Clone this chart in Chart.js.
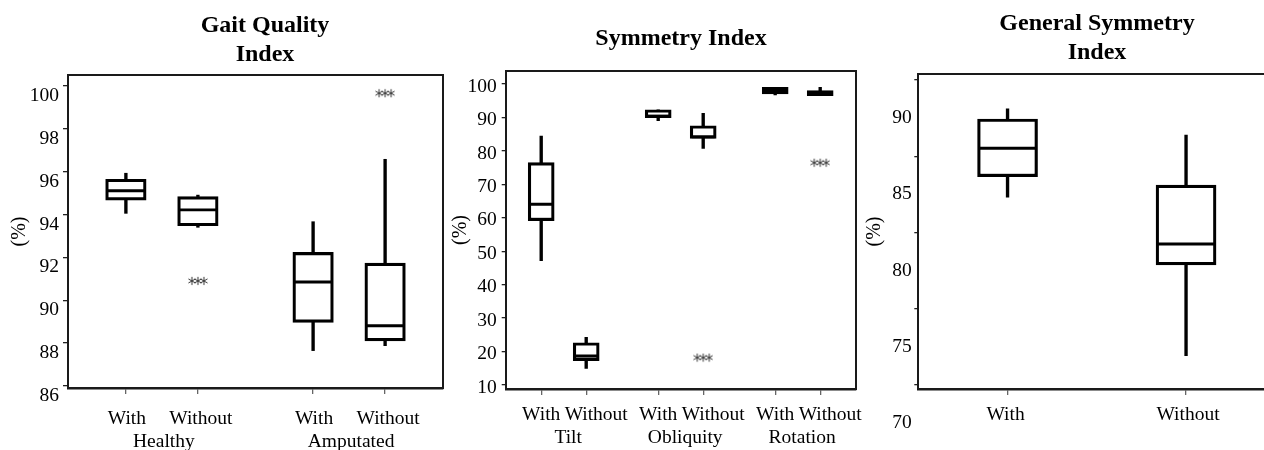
<!DOCTYPE html>
<html>
<head>
<meta charset="utf-8">
<script src="https://cdn.jsdelivr.net/npm/chart.js@4.4.1/dist/chart.umd.min.js"></script>
<style>
html, body { margin: 0; padding: 0; background: #fff; overflow: hidden; width: 1264px; height: 450px; }
#wrap { position: relative; width: 1264px; height: 450px; overflow: hidden; }
canvas { position: absolute; top: 0; }
</style>
</head>
<body>
<div id="wrap">
  <canvas id="c1" width="530" height="450" style="left:0px"></canvas>
  <canvas id="c2" width="502" height="450" style="left:430px"></canvas>
  <canvas id="c3" width="474" height="450" style="left:860px"></canvas>
</div>
<script>
// ---------- Panel 1: Gait Quality Index ----------
const gqiGroups = ['Healthy', 'Amputated'];
const gqiConditions = ['With', 'Without', 'With', 'Without'];
const gqiMin    = [94.05, 93.40, 87.65, 87.88];
const gqiQ1     = [94.67, 93.47, 88.97, 88.10];
const gqiMedian = [95.10, 94.21, 90.85, 88.81];
const gqiQ3     = [95.64, 94.83, 92.23, 91.73];
const gqiMax    = [95.92, 94.90, 93.66, 96.57];
const gqiOutliers = [null, 90.9, null, 99.65];
const gqiTicks  = [86, 88, 90, 92, 94, 96, 98, 100];

// ---------- Panel 2: Symmetry Index ----------
const siGroups = ['Tilt', 'Obliquity', 'Rotation'];
const siConditions = ['With', 'Without', 'With', 'Without', 'With', 'Without'];
const siMin    = [47.16, 14.98, 89.03, 80.77, 96.71, 96.50];
const siQ1     = [59.12, 17.25, 89.92, 83.76, 97.01, 96.50];
const siMedian = [64.03, 18.66, 90.37, 84.20, 97.99, 97.25];
const siQ3     = [76.47, 22.64, 92.31, 87.53, 99.01, 98.00];
const siMax    = [84.45, 24.25, 92.31, 91.24, 99.01, 99.00];
const siOutliers = [null, null, null, 18.2, null, 76.47];
const siTicks  = [10, 20, 30, 40, 50, 60, 70, 80, 90, 100];

// ---------- Panel 3: General Symmetry Index ----------
const gsiGroups = [];
const gsiConditions = ['With', 'Without'];
const gsiMin    = [82.31, 71.92];
const gsiQ1     = [83.66, 77.87];
const gsiMedian = [85.52, 79.25];
const gsiQ3     = [87.44, 83.11];
const gsiMax    = [88.10, 86.39];
const gsiOutliers = [null, null];
const gsiTicks  = [70, 75, 80, 85, 90];

Chart.defaults.font.family = "'Liberation Serif', 'Times New Roman', serif";
Chart.defaults.color = '#000';

function outlierMarker() {
  const c = document.createElement('canvas');
  c.width = 20; c.height = 10;
  const g = c.getContext('2d');
  g.strokeStyle = '#333'; g.lineWidth = 1.0; g.lineCap = 'round';
  [4, 10, 16].forEach(cx => {
    for (let k = 0; k < 3; k++) {
      const a = Math.PI / 2 + k * Math.PI / 3;
      g.beginPath();
      g.moveTo(cx + Math.cos(a) * 3.7, 5 + Math.sin(a) * 3.7);
      g.lineTo(cx - Math.cos(a) * 3.7, 5 - Math.sin(a) * 3.7);
      g.stroke();
    }
  });
  return c;
}
const MARK = outlierMarker();
const FRAME = '#1a1a1a';
const LABEL_FONT = { size: 19.5 };

function panel(id, o) {
  const d = o.data;
  const canvas = document.getElementById(id);
  const slots = d.conditions.map((_, i) => 1 + i + Math.floor(i / 2) * 0.6);
  const groupPos = d.groups.map((_, g) => (slots[2 * g] + slots[2 * g + 1]) / 2);
  const xMin = 1 - o.xMargin, xMax = slots[slots.length - 1] + o.xMargin;
  const plotW = canvas.width - o.yWidth - o.rightW;
  const pxPerUnit = plotW / (xMax - xMin);
  // label anchor positions (tick position nudged by a small pixel offset, as in the figure)
  const condLabelPos = slots.map((s, i) => s + (d.conditions[i] === 'With' ? o.withOffset : o.withoutOffset) / pxPerUnit);

  const labelAxis = (positions, labels, weight, height, pad, offset) => ({
    type: 'linear', axis: 'x', position: 'bottom', weight: weight,
    min: xMin, max: xMax, offset: false,
    grid: { display: false, drawTicks: false },
    border: { display: false },
    ticks: { autoSkip: false, maxRotation: 0, minRotation: 0, padding: pad, labelOffset: offset,
             font: LABEL_FONT, color: '#000', callback: (v, i) => labels[i] },
    afterBuildTicks: s => { s.ticks = positions.map(v => ({ value: v })); },
    afterFit: s => { s.height = height; }
  });

  const scales = {
    x: {
      type: 'linear', position: 'bottom', weight: 0, min: xMin, max: xMax, offset: false,
      grid: { display: true, drawOnChartArea: false, drawTicks: true, tickLength: 6, color: '#666', lineWidth: 1.3, offset: false },
      border: { display: true, color: FRAME, width: 2.4 },
      ticks: { display: false },
      afterBuildTicks: s => { s.ticks = slots.map(v => ({ value: v })); },
      afterFit: s => { s.height = o.xAxisH; }
    },
    xC: labelAxis(condLabelPos, d.conditions, 1, o.labelH, o.labelPad, 0),
    xTop: {
      type: 'linear', axis: 'x', position: 'top', min: xMin, max: xMax,
      grid: { display: false, drawTicks: false }, border: { display: true, color: FRAME, width: 2 },
      ticks: { display: false }, afterFit: s => { s.height = 0; }
    },
    y: {
      type: 'linear', position: 'left', min: o.yMin, max: o.yMax,
      grid: { display: true, drawOnChartArea: false, drawTicks: true, tickLength: o.yTickLen, color: '#222', lineWidth: 1.3 },
      border: { display: true, color: FRAME, width: 2 },
      ticks: { autoSkip: false, padding: o.yPad, labelOffset: o.yLabelOffset, font: LABEL_FONT, color: '#000',
               callback: v => String(v) },
      afterBuildTicks: s => { s.ticks = d.ticks.map(v => ({ value: v })); },
      afterFit: s => { s.width = o.yWidth; },
      title: { display: true, text: '(%)', font: { size: 20 }, color: '#000', padding: { top: o.yTitlePad, bottom: 0 } }
    },
    yRight: {
      type: 'linear', axis: 'y', position: 'right', min: o.yMin, max: o.yMax,
      grid: { display: false, drawTicks: false }, border: { display: true, color: FRAME, width: 2 },
      ticks: { display: false }, afterFit: s => { s.width = o.rightW; }
    }
  };
  if (d.groups.length) {
    scales.xG = labelAxis(groupPos, d.groups, 2, o.groupH, o.groupPad, o.groupOffset);
  }

  const pts = arr => slots.map((x, i) => ({ x: x, y: arr[i] }));
  const datasets = [
    { type: 'bar', label: 'upper whisker', data: slots.map((x, i) => ({ x: x, y: [d.q3[i], d.max[i]] })),
      backgroundColor: '#000', borderWidth: 0, barThickness: 2.7, grouped: false, order: 3 },
    { type: 'bar', label: 'lower whisker', data: slots.map((x, i) => ({ x: x, y: [d.min[i], d.q1[i]] })),
      backgroundColor: '#000', borderWidth: 0, barThickness: 2.7, grouped: false, order: 3 },
    { type: 'bar', label: 'box', data: slots.map((x, i) => ({ x: x, y: [d.q1[i], d.q3[i]] })),
      backgroundColor: '#fff', borderColor: '#000', borderWidth: 3.2, borderSkipped: false,
      barThickness: o.boxW, grouped: false, order: 2 },
    { type: 'scatter', label: 'median', data: pts(d.median),
      pointStyle: 'line', pointRadius: o.boxW / 2 - 1.5, pointBorderWidth: 2.9, pointBorderColor: '#000', order: 1 },
    { type: 'scatter', label: 'outliers', data: pts(d.outliers).filter(p => p.y !== null),
      pointStyle: MARK, pointRadius: 5, order: 0 }
  ];

  return new Chart(canvas, {
    type: 'bar',
    data: { datasets: datasets },
    options: {
      responsive: false, animation: false, events: [],
      layout: { padding: 0 },
      plugins: {
        legend: { display: false }, tooltip: { enabled: false },
        title: { display: true, text: o.title, color: '#000',
                 font: { size: 24, weight: 'bold', lineHeight: 1.2 },
                 padding: { top: o.titleTop, bottom: o.titleBottom } }
      },
      scales: scales
    }
  });
}

panel('c1', {
  data: { groups: gqiGroups, conditions: gqiConditions, min: gqiMin, q1: gqiQ1, median: gqiMedian,
          q3: gqiQ3, max: gqiMax, outliers: gqiOutliers, ticks: gqiTicks },
  title: ['Gait Quality', 'Index'], titleTop: 11.1, titleBottom: 6.3,
  yMin: 85.907, yMax: 100.5, yWidth: 68, rightW: 87, yTickLen: 5, yPad: 4, yLabelOffset: 10, yTitlePad: 8,
  xMargin: 0.804, boxW: 40.5,
  xAxisH: 12, labelPad: 7, labelH: 30, withOffset: 1, withoutOffset: 3,
  groupPad: 0, groupH: 20, groupOffset: 2
});

panel('c2', {
  data: { groups: siGroups, conditions: siConditions, min: siMin, q1: siQ1, median: siMedian,
          q3: siQ3, max: siMax, outliers: siOutliers, ticks: siTicks },
  title: 'Symmetry Index', titleTop: 24.1, titleBottom: 18.1,
  yMin: 8.80, yMax: 103.89, yWidth: 75.7, rightW: 76.3, yTickLen: 4, yPad: 5, yLabelOffset: 2.5, yTitlePad: 18.8,
  xMargin: 0.789, boxW: 26,
  xAxisH: 12, labelPad: 2.3, labelH: 22, withOffset: 0, withoutOffset: 10,
  groupPad: 2.8, groupH: 27, groupOffset: 4.5
});

panel('c3', {
  data: { groups: gsiGroups, conditions: gsiConditions, min: gsiMin, q1: gsiQ1, median: gsiMedian,
          q3: gsiQ3, max: gsiMax, outliers: gsiOutliers, ticks: gsiTicks },
  title: ['General Symmetry', 'Index'], titleTop: 9.6, titleBottom: 6.8,
  yMin: 69.74, yMax: 90.39, yWidth: 58.3, rightW: 58.7, yTickLen: 4, yPad: 2.6, yLabelOffset: 38, yTitlePad: 3,
  xMargin: 0.5, boxW: 60,
  xAxisH: 12, labelPad: 2.3, labelH: 49, withOffset: -2, withoutOffset: 2,
  groupPad: 0, groupH: 0, groupOffset: 0
});
</script>
</body>
</html>
